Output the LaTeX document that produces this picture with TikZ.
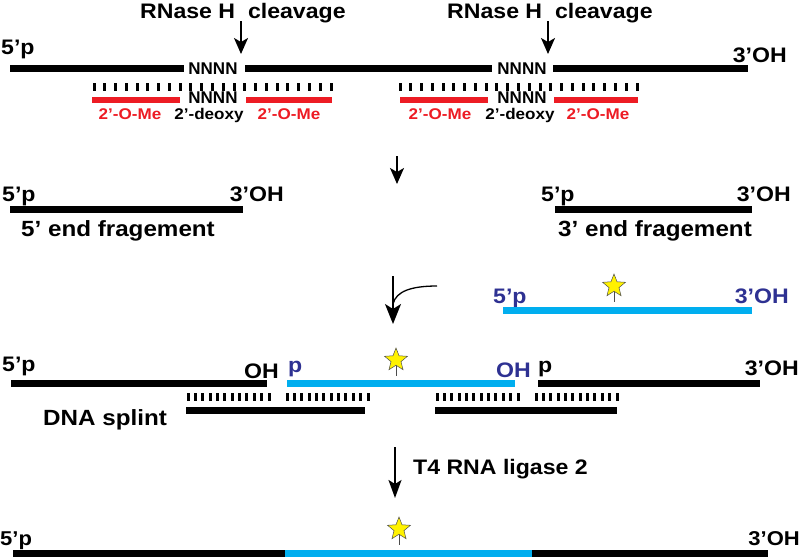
\documentclass[tikz,border=0pt]{standalone}
\usepackage{fontspec}
\setmainfont{Liberation Sans}
\newfontfamily\wf[FakeStretch=1.1]{Liberation Sans}
\usetikzlibrary{arrows.meta,shapes.geometric}
\definecolor{myred}{HTML}{ED1C24}
\definecolor{mycyan}{HTML}{00AEEF}
\definecolor{mynavy}{HTML}{2E3192}
\definecolor{myyellow}{HTML}{FFF200}
\newcommand\fsz[1]{\fontsize{#1}{#1}\selectfont}
\begin{document}
\begin{tikzpicture}[x=1pt,y=-1pt,
  strand/.style={line width=7pt},
  rnaline/.style={strand,black},
  blueline/.style={strand,mycyan},
  redbar/.style={line width=6pt,myred},
  tickmark/.style={line width=3pt,black},
  lab/.style={inner sep=0pt,font=\wf\bfseries\fsz{21}},
  nlab/.style={inner sep=0pt,font=\bfseries\fsz{17}},
  slab/.style={inner sep=0pt,font=\wf\bfseries\fsz{15.5}},
  downarrow/.style={line width=1.6pt,-{Stealth[length=16pt,width=14pt,inset=4pt]}},
  starnode/.style={star,star points=5,star point ratio=2.3,minimum size=24pt,inner sep=0pt,fill=myyellow,draw=black!70,line width=0.5pt},
  stem/.style={line width=0.7pt,black!70}]
\useasboundingbox (0,0) rectangle (800,557);

% ---------------- Row 1 ----------------
\node[lab,anchor=base west] (rn1) at (140,18) {RNase H\ \ cleavage};
\node[lab,anchor=base west] (rn2) at (447,18) {RNase H\ \ cleavage};
\coordinate (a1s) at (241,21); \coordinate (a1e) at (241,54);
\coordinate (a2s) at (548,21); \coordinate (a2e) at (548,54);
\draw[downarrow] (a1s) -- (a1e);
\draw[downarrow] (a2s) -- (a2e);
\node[lab,anchor=base west] (p5a) at (1,54) {5’p};
\node[lab,anchor=base east] (oh3a) at (787,62) {3’OH};
\draw[rnaline] (10,68) -- (184,68);
\draw[rnaline] (245,68) -- (492,68);
\draw[rnaline] (553,68) -- (748,68);
\node[nlab,anchor=base] (n1t) at (213,74) {NNNN};
\node[nlab,anchor=base] (n2t) at (522,74) {NNNN};
\foreach \i in {0,...,22} {
  \draw[tickmark] ({94+\i*237/22},83) -- ++(0,8);
  \draw[tickmark] ({400+\i*237/22},83) -- ++(0,8);
}
\draw[redbar] (92,100) -- (180,100);
\draw[redbar] (246,100) -- (332,100);
\draw[redbar] (400,100) -- (488,100);
\draw[redbar] (554,100) -- (638,100);
\node[nlab,anchor=base] (n1b) at (213,103) {NNNN};
\node[nlab,anchor=base] (n2b) at (522,103) {NNNN};
\node[slab,anchor=base,myred] (om1) at (130,119) {2’-O-Me};
\node[slab,anchor=base] (dx1) at (209,119) {2’-deoxy};
\node[slab,anchor=base,myred] (om2) at (289,119) {2’-O-Me};
\node[slab,anchor=base,myred] (om3) at (440,119) {2’-O-Me};
\node[slab,anchor=base] (dx2) at (520,119) {2’-deoxy};
\node[slab,anchor=base,myred] (om4) at (598,119) {2’-O-Me};

% ---------------- Row 2 ----------------
\coordinate (b1s) at (397,156); \coordinate (b1e) at (397,184);
\draw[downarrow] (b1s) -- (b1e);
\node[lab,anchor=base west] (p5b) at (2,201) {5’p};
\node[lab,anchor=base east] (oh3b) at (284,201) {3’OH};
\draw[rnaline] (10,209) -- (243,209);
\node[lab,font=\wf\bfseries\fsz{22},anchor=base] (f5) at (118,236) {5’ end fragement};
\node[lab,anchor=base west] (p5c) at (541,201) {5’p};
\node[lab,anchor=base east] (oh3c) at (791,201) {3’OH};
\draw[rnaline] (555,209) -- (752,209);
\node[lab,font=\wf\bfseries\fsz{22},anchor=base] (f3) at (655,236) {3’ end fragement};

% ---------------- Labelled oligo ----------------
\node[lab,anchor=base west,mynavy] (p5d) at (493,303) {5’p};
\node[lab,anchor=base east,mynavy] (oh3d) at (789,303) {3’OH};
\draw[blueline] (503,310) -- (752,310);
\node[starnode] (st1) at (614,286) {};
\draw[stem] (st1.south) -- ++(0,10);
\coordinate (c1s) at (393,276); \coordinate (c1e) at (393,324);
\coordinate (c2s) at (437,286); \coordinate (c2e) at (393,304);
\draw[line width=1.6pt,-{Stealth[length=20pt,width=16pt,inset=5pt]}] (c1s) -- (c1e);
\draw[line width=1.3pt] (c2s) .. controls (412,286) and (396,291) .. (c2e);

% ---------------- Row 3 ----------------
\node[lab,anchor=base west] (p5e) at (2,371) {5’p};
\node[lab,anchor=base east] (ohe) at (279,378) {OH};
\draw[rnaline] (11,383) -- (267,383);
\node[lab,anchor=base west,mynavy] (pbl) at (288,372) {p};
\draw[blueline] (287,383) -- (515,383);
\node[starnode] (st2) at (396,360) {};
\draw[stem] (st2.south) -- ++(0,10);
\node[lab,anchor=base east,mynavy] (ohbl) at (531,377) {OH};
\node[lab,anchor=base west] (pbk) at (538,372) {p};
\draw[rnaline] (538,383) -- (760,383);
\node[lab,anchor=base east] (oh3e) at (799,375) {3’OH};
\foreach \g in {188,287,437,536} {
  \foreach \i in {0,...,11} {
    \draw[tickmark] ({\g+\i*81/11},393) -- ++(0,8);
  }
}
\draw[rnaline] (186,410) -- (365,410);
\draw[rnaline] (435,410) -- (617,410);
\node[lab,font=\wf\bfseries\fsz{22},anchor=base west] (spl) at (43,425) {DNA splint};

% ---------------- Row 4 ----------------
\coordinate (d1s) at (395,447); \coordinate (d1e) at (395,498);
\draw[line width=1.6pt,-{Stealth[length=18pt,width=13pt,inset=4pt]}] (d1s) -- (d1e);
\node[lab,anchor=base west] (lig) at (413,474) {T4 RNA ligase 2};
\node[lab,font=\wf\bfseries\fsz{20},anchor=base west] (p5f) at (0,545) {5’p};
\node[lab,font=\wf\bfseries\fsz{20},anchor=base east] (oh3f) at (800,545) {3’OH};
\draw[rnaline] (13,553) -- (285,553);
\draw[blueline] (285,553) -- (532,553);
\draw[rnaline] (532,553) -- (768,553);
\node[starnode] (st3) at (399,529) {};
\draw[stem] (st3.south) -- ++(0,10);
\end{tikzpicture}
\end{document}
